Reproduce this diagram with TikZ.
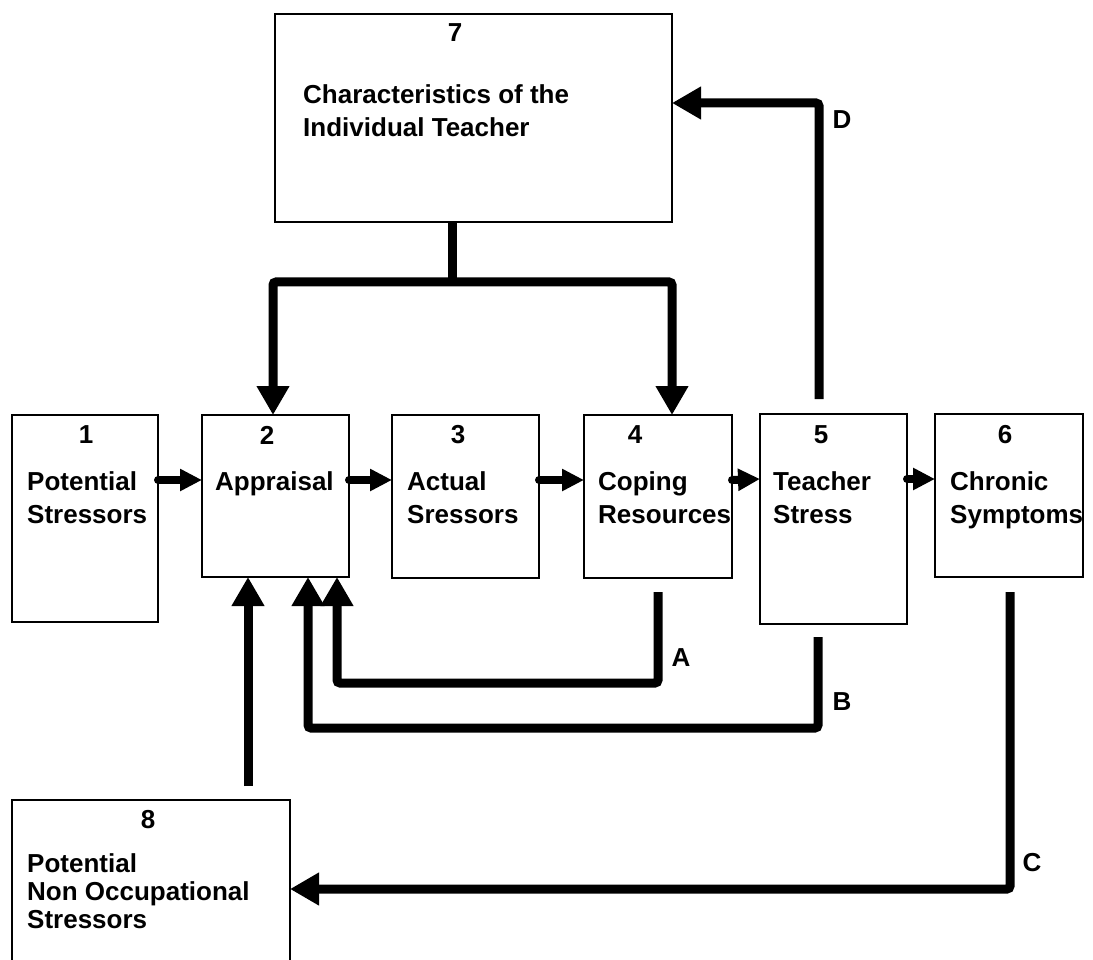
\documentclass[tikz,border=0pt]{standalone}
\usepackage{fontspec}
\setmainfont{Liberation Sans}
\usetikzlibrary{arrows.meta}

\begin{document}
\begin{tikzpicture}[
  x=1pt, y=-1pt,
  box/.style={draw, line width=2pt, anchor=north west, inner sep=0pt, outer sep=0pt},
  num/.style={font=\fontsize{26}{33}\selectfont\bfseries, inner sep=0pt},
  txt/.style={font=\fontsize{26}{33}\selectfont\bfseries, align=left,
              anchor=north west, inner sep=0pt},
  lbl/.style={font=\fontsize{26}{33}\selectfont\bfseries, inner sep=0pt},
  sarr/.style={-{Triangle[length=22pt, width=21pt]}, line width=8pt, line cap=round},
  barr/.style={-{Triangle[length=29pt, width=31pt]}, line width=9pt, rounded corners=3pt},
  bline/.style={line width=9pt}
]
\useasboundingbox (0,0) rectangle (1093,960);
\clip (0,0) rectangle (1093,960);

% boxes
\foreach \n/\x/\y/\w/\h in {1/12/415/146/207, 2/202/415/147/162,
    3/392/415/147/163, 4/584/415/148/163, 5/760/414/147/210,
    6/935/414/148/163, 7/275/14/397/208, 8/12/800/278/200}{
  \node[box, minimum width=\w pt, minimum height=\h pt] (b\n) at (\x,\y) {};
}
\foreach \n/\x/\y in {1/86/435, 2/267/435, 3/458/435, 4/635/435,
    5/821/435, 6/1005/435, 7/455/33, 8/148/820}{
  \node[num] (n\n) at (\x,\y) {\n};
}

\node[txt] (t1) at (27,471) {Potential\\Stressors};
\node[txt] (t2) at (215,471) {Appraisal};
\node[txt] (t3) at (407,471) {Actual\\Sressors};
\node[txt] (t4) at (598,471) {Coping\\Resources};
\node[txt] (t5) at (773,471) {Teacher\\Stress};
\node[txt] (t6) at (950,471) {Chronic\\Symptoms};
\node[txt] (t7) at (303,84) {Characteristics of the\\Individual Teacher};
\node[txt, font=\fontsize{26}{28}\selectfont\bfseries] (t8) at (27,853)
  {Potential\\Non Occupational\\Stressors};

% main chain
\foreach \a/\b in {1/2, 2/3, 3/4, 4/5, 5/6}
  \draw[sarr] ([yshift=-65pt]b\a.north east) -- ([yshift=-65pt]b\b.north west);

% teacher characteristics
\coordinate (fork) at (452,282);
\draw[bline] (b7.south -| fork) -- (fork);
\draw[barr, {Triangle[length=29pt, width=31pt]}-{Triangle[length=29pt, width=31pt]}]
  ([xshift=-2.5pt]b2.north) |- (fork) -| ([xshift=14pt]b4.north);

% feedback loops
\draw[barr] ([xshift=-14.5pt,yshift=15pt]b5.north) |- ([yshift=15pt]b7.east);
\draw[barr] ([yshift=-14pt]b4.south) -- ++(0,91) -| ([xshift=61.5pt]b2.south);
\draw[barr] ([xshift=-15.5pt,yshift=-13pt]b5.south) -- ++(0,91) -| ([xshift=32.5pt]b2.south);
\draw[barr] ([xshift=1pt,yshift=-15pt]b6.south) |- ([yshift=11pt]b8.east);
\draw[barr] ([xshift=97pt,yshift=14pt]b8.north) -- ([xshift=-27.5pt]b2.south);

\node[lbl] (la) at (681,658) {A};
\node[lbl] (lb) at (842,702) {B};
\node[lbl] (lc) at (1032,863) {C};
\node[lbl] (ld) at (842,120) {D};
\end{tikzpicture}
\end{document}
